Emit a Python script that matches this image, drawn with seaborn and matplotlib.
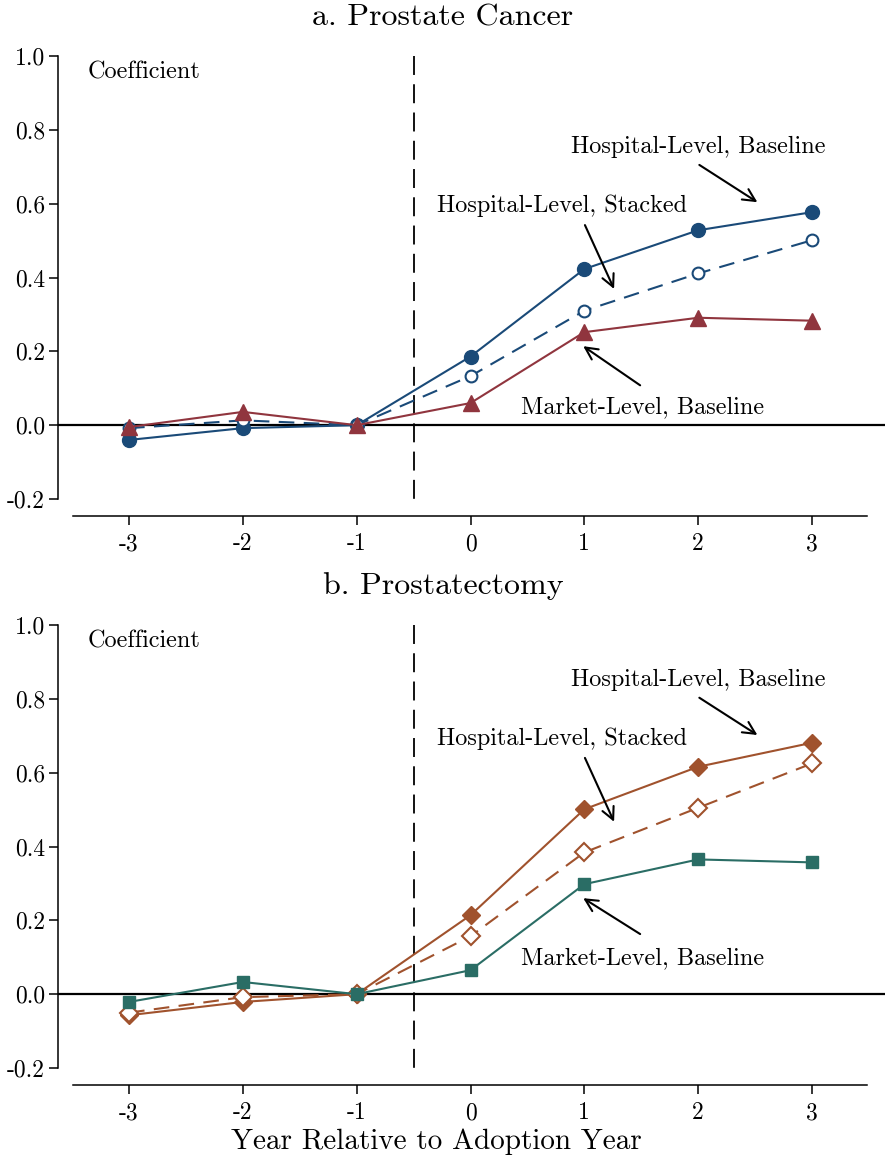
import matplotlib
matplotlib.use("Agg")
import matplotlib.pyplot as plt
import seaborn as sns
import pandas as pd

# ---------------- data ----------------
years = [-3, -2, -1, 0, 1, 2, 3]
year_labels = ["-3", "-2", "-1", "0", "1", "2", "3"]
y_ticks = [-0.2, 0.0, 0.2, 0.4, 0.6, 0.8, 1.0]
y_tick_labels = ["-0.2", "0.0", "0.2", "0.4", "0.6", "0.8", "1.0"]

# Panel a: Prostate Cancer
a_hosp_baseline = [-0.040, -0.008, 0.0, 0.186, 0.423, 0.528, 0.577]
a_hosp_stacked = [-0.008, 0.013, 0.0, 0.133, 0.310, 0.411, 0.501]
a_market_baseline = [-0.005, 0.036, 0.0, 0.060, 0.252, 0.291, 0.283]

# Panel b: Prostatectomy
b_hosp_baseline = [-0.057, -0.021, 0.0, 0.214, 0.501, 0.616, 0.681]
b_hosp_stacked = [-0.050, -0.008, 0.0, 0.157, 0.384, 0.505, 0.625]
b_market_baseline = [-0.021, 0.033, 0.0, 0.065, 0.298, 0.365, 0.357]

panel_titles = ["a. Prostate Cancer", "b. Prostatectomy"]
label_baseline = "Hospital-Level, Baseline"
label_stacked = "Hospital-Level, Stacked"
label_market = "Market-Level, Baseline"
ylabel_text = "Coefficient"
xlabel_text = "Year Relative to Adoption Year"

# ---------------- style ----------------
sns.set_style("ticks")
plt.rcParams["font.family"] = ["cmr10", "DejaVu Serif"]
plt.rcParams["axes.unicode_minus"] = False
plt.rcParams["mathtext.fontset"] = "cm"
for k in ["text.color", "axes.labelcolor", "xtick.color", "ytick.color", "axes.edgecolor"]:
    plt.rcParams[k] = "black"

NAVY = "#1a4a78"
RED = "#90353e"
SIENNA = "#a0522d"
TEAL = "#2a6d65"

FS_TICK = 17
FS_ANN = 17.5
FS_TITLE = 23
FS_XLAB = 21

W, H = 886, 1159
fig = plt.figure(figsize=(W / 100, H / 100), dpi=100)

ax_left = 58 / W
ax_width = 827 / W
ax_h = 460 / H
ax1 = fig.add_axes([ax_left, (H - 516) / H, ax_width, ax_h])
ax2 = fig.add_axes([ax_left, (H - 1085) / H, ax_width, ax_h])

panels = [
    (ax1, a_hosp_baseline, a_hosp_stacked, a_market_baseline, NAVY, RED, "o", "^"),
    (ax2, b_hosp_baseline, b_hosp_stacked, b_market_baseline, SIENNA, TEAL, "D", "s"),
]

for ax, hb, hs, mb, c_h, c_m, mk_h, mk_m in panels:
    df = pd.DataFrame({"year": years, "hb": hb, "hs": hs, "mb": mb})

    ax.axhline(0, color="black", lw=1.6, zorder=1)
    vline, = ax.plot([-0.5, -0.5], [1.0, -0.2], color="black", lw=1.3, zorder=1)
    vline.set_dashes((10.5, 5.15))

    big = 10 if mk_h == "o" else 9.5
    # hospital baseline (filled)
    sns.lineplot(data=df, x="year", y="hb", ax=ax, color=c_h, lw=1.5,
                 marker=mk_h, markersize=big, markeredgecolor=c_h,
                 markerfacecolor=c_h, markeredgewidth=1.0, zorder=3)
    # hospital stacked (open, dashed)
    sns.lineplot(data=df, x="year", y="hs", ax=ax, color=c_h, lw=1.5,
                 marker=mk_h, markersize=(8.5 if mk_h == "o" else 9.0),
                 markeredgecolor=c_h, markerfacecolor="white",
                 markeredgewidth=1.5, zorder=4)
    ax.lines[-1].set_dashes((7.5, 4.5))
    # market baseline
    sns.lineplot(data=df, x="year", y="mb", ax=ax, color=c_m, lw=1.5,
                 marker=mk_m, markersize=(11 if mk_m == "^" else 9.0),
                 markeredgecolor=c_m, markerfacecolor=c_m,
                 markeredgewidth=1.0, zorder=5)

    ax.set_xlim(-3.624, 3.641)
    ax.set_ylim(-0.246, 1.0)
    ax.set_xticks(years)
    ax.set_xticklabels(year_labels)
    ax.set_yticks(y_ticks)
    ax.set_yticklabels(y_tick_labels)
    ax.set_xlabel("")
    ax.set_ylabel("")
    for s in ["top", "right"]:
        ax.spines[s].set_visible(False)
    ax.spines["left"].set_bounds(-0.2, 1.0)
    ax.spines["bottom"].set_bounds(-3.49, 3.48)
    for s in ["left", "bottom"]:
        ax.spines[s].set_linewidth(1.1)
        ax.spines[s].set_color("black")
    ax.tick_params(axis="both", direction="out", length=6.5, width=1.1,
                   labelsize=FS_TICK, color="black", labelcolor="black")
    ax.tick_params(axis="y", pad=3)
    ax.tick_params(axis="x", pad=6)
    ax.set_facecolor("white")

    ax.text(-3.361, 0.938, ylabel_text, fontsize=FS_ANN, ha="left", va="baseline",
            color="black")

arrow = dict(arrowstyle="->", lw=1.5, color="black", mutation_scale=22,
             shrinkA=0, shrinkB=0)

for ax, off in [(ax1, 0.0), (ax2, 0.098)]:
    ax.text(2.004, 0.737 + off, label_baseline, fontsize=FS_ANN, ha="center", va="baseline", color="black")
    ax.text(0.804, 0.578 + off, label_stacked, fontsize=FS_ANN, ha="center", va="baseline", color="black")
    ax.text(1.507, 0.032 + off * 0.5, label_market, fontsize=FS_ANN, ha="center", va="baseline", color="black")
    ax.annotate("", xy=(2.52, 0.604 + off), xytext=(2.01, 0.705 + off), arrowprops=arrow)
    ax.annotate("", xy=(1.261, 0.369 + off), xytext=(1.005, 0.542 + off), arrowprops=arrow)
    ax.annotate("", xy=(0.99, 0.214 + off * 0.47), xytext=(1.49, 0.108 + off * 0.56), arrowprops=arrow)

fig.text(0.5, 1 - 25 / H, panel_titles[0], fontsize=FS_TITLE, ha="center", va="baseline", color="black")
fig.text(0.5, 1 - 594 / H, panel_titles[1], fontsize=FS_TITLE, ha="center", va="baseline", color="black")
fig.text(0.493, 1 - 1149 / H, xlabel_text, fontsize=FS_XLAB, ha="center", va="baseline", color="black")

fig.savefig("out.png", dpi=100, facecolor="white")
